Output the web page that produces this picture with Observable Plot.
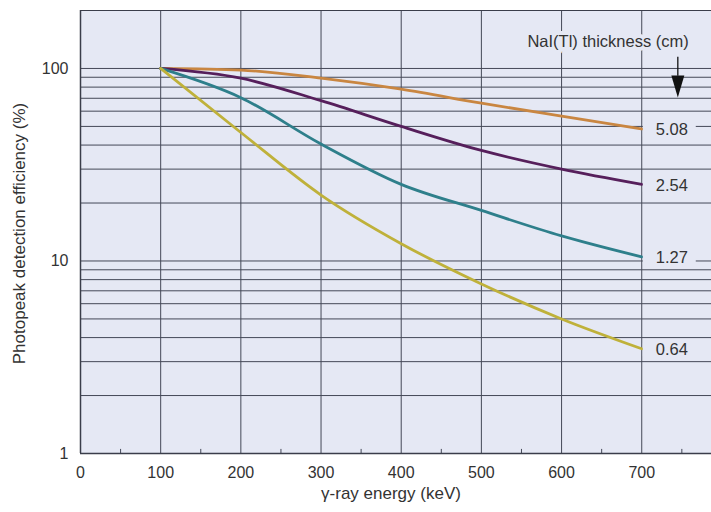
<!DOCTYPE html>
<html>
<head>
<meta charset="utf-8">
<script src="https://cdn.jsdelivr.net/npm/d3@7"></script>
<script src="https://cdn.jsdelivr.net/npm/@observablehq/plot@0.6"></script>
<style>
  html, body { margin: 0; padding: 0; background: #ffffff; }
</style>
</head>
<body>
<div id="chart"></div>
<script>
// ---- Data ----
const energy = [100, 200, 300, 400, 500, 600, 700];           // keV
const thickness = ["5.08", "2.54", "1.27", "0.64"];          // NaI(Tl) thickness, cm
const eff508 = [100, 98, 89, 78, 66, 56.5, 48.5];            // %
const eff254 = [100, 89, 68, 50, 37.5, 30, 25];
const eff127 = [100, 70.5, 40.5, 25, 18.3, 13.5, 10.5];
const eff064 = [100, 46.5, 22, 12.3, 7.6, 5.0, 3.5];
const seriesColors = ["#c98641", "#561f5b", "#2e7f8b", "#bfb13a"];

const xTicks = [0, 100, 200, 300, 400, 500, 600, 700];
const xMinorTicks = [50, 150, 250, 350, 450, 550, 650, 750];
const xGrid = [100, 200, 300, 400, 500, 600, 700];
const yTicks = [1, 10, 100];
const yGrid = [2, 3, 4, 5, 6, 7, 8, 9, 10, 20, 30, 40, 50, 60, 70, 80, 90, 100, 200];

const xTitle = "γ-ray energy (keV)";
const yTitle = "Photopeak detection efficiency (%)";
const legendTitle = "NaI(Tl) thickness (cm)";

// ---- Build tables ----
const seriesValues = [eff508, eff254, eff127, eff064];
const rows = thickness.flatMap((t, i) =>
  energy.map((e, j) => ({energy: e, eff: seriesValues[i][j], thickness: t}))
);
const ends = thickness.map((t, i) => ({
  energy: energy[energy.length - 1],
  eff: seriesValues[i][energy.length - 1],
  thickness: t
}));

const bg = "#e5e8f4";
const gridColor = "#444857";
const axisColor = "#3a3d4a";
const textColor = "#333333";
const font = "'Liberation Sans', Arial, Helvetica, sans-serif";

const triangleDown = {
  draw(ctx, size) {
    const s = Math.sqrt(size / Math.PI);
    ctx.moveTo(-6.5 * s, -11 * s);
    ctx.lineTo(6.5 * s, -11 * s);
    ctx.lineTo(0, 11 * s);
    ctx.closePath();
  }
};

const chart = Plot.plot({
  width: 711,
  height: 512,
  marginLeft: 80,
  marginRight: 0,
  marginTop: 10,
  marginBottom: 59,
  x: {domain: [0, 787]},
  y: {type: "log", domain: [1, 200]},
  color: {domain: thickness, range: seriesColors},
  style: {fontFamily: font, fontSize: "16px", color: textColor, background: "#ffffff"},
  marks: [
    Plot.frame({fill: bg, stroke: "none"}),
    Plot.ruleY(yGrid, {stroke: gridColor, strokeWidth: 1}),
    Plot.ruleX(xGrid, {stroke: gridColor, strokeWidth: 1}),
    Plot.ruleX(xMinorTicks, {y1: 1, y2: 1.05, stroke: gridColor, strokeWidth: 1}),
    Plot.ruleX([0], {stroke: axisColor, strokeWidth: 1.5}),
    Plot.ruleY([1], {stroke: axisColor, strokeWidth: 1.5}),
    Plot.ruleY([200], {stroke: axisColor, strokeWidth: 1.2}),
    Plot.line(rows, {
      x: "energy", y: "eff", z: "thickness", stroke: "thickness",
      strokeWidth: 2.8, curve: "monotone-x", strokeLinecap: "round"
    }),
    // background box behind each thickness label (hides the grid line there)
    Plot.ruleY(ends, {y: "eff", x1: 702, x2: 768, dy: 1, stroke: bg, strokeWidth: 13}),
    Plot.text(ends, {
      x: "energy", y: "eff", text: "thickness",
      dx: 14, dy: 1, textAnchor: "start",
      fill: textColor, fontSize: 16.5
    }),
    Plot.text([legendTitle], {
      x: () => 658, y: () => 137, text: d => d,
      fill: textColor, stroke: bg, strokeWidth: 8, paintOrder: "stroke",
      fontSize: 16.5
    }),
    Plot.ruleX([745], {y1: 114.5, y2: 91, stroke: "#111111", strokeWidth: 1.3}),
    Plot.dot([745], {x: d => d, y: () => 80.6, symbol: triangleDown, r: 1, fill: "#111111", stroke: "none"}),
    Plot.axisX(xTicks, {tickSize: 0, tickPadding: 13, label: null, tickFormat: d => `${d}`, fontSize: 16}),
    Plot.axisY(yTicks, {tickSize: 0, tickPadding: 12, label: null, tickFormat: d => `${d}`, fontSize: 16}),
    Plot.text([xTitle], {frameAnchor: "bottom", dy: 45, dx: -5, text: d => d, fill: textColor, fontSize: 17}),
    Plot.text([yTitle], {frameAnchor: "left", dx: -61, dy: 1.5, rotate: -90, textAnchor: "middle", text: d => d, fill: textColor, fontSize: 17})
  ]
});

document.getElementById("chart").append(chart);
</script>
</body>
</html>
